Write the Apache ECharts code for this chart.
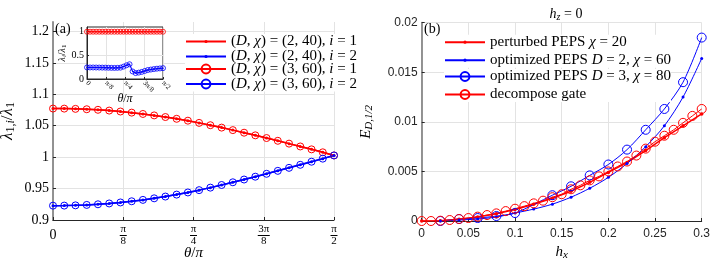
<!DOCTYPE html>
<html><head><meta charset="utf-8">
<script src="https://cdn.jsdelivr.net/npm/echarts@6/dist/echarts.min.js"></script>
<style>html,body{margin:0;padding:0;background:#fff}#c{width:711px;height:260px}</style>
</head><body><div id="c"></div>
<script>
// ---------- Panel (a) data ----------
const thetaOverPi = [0,0.02,0.04,0.06,0.08,0.1,0.12,0.14,0.16,0.18,0.2,0.22,0.24,0.26,0.28,0.3,0.32,0.34,0.36,0.38,0.4,0.42,0.44,0.46,0.48,0.5];
const ratioD2i1 = [1.0773,1.0772,1.0768,1.0762,1.0753,1.0741,1.0726,1.0708,1.0687,1.0664,1.0638,1.0610,1.0580,1.0545,1.0508,1.0470,1.0430,1.0389,1.0347,1.0304,1.0260,1.0215,1.0170,1.0124,1.0077,1.0027];
const ratioD2i2 = [0.9228,0.9229,0.9233,0.9240,0.9250,0.9263,0.9279,0.9298,0.9320,0.9345,0.9373,0.9404,0.9438,0.9475,0.9515,0.9557,0.9600,0.9644,0.9689,0.9735,0.9782,0.9830,0.9878,0.9927,0.9976,1.0027];
const ratioD3i1 = [1.0773,1.0772,1.0768,1.0762,1.0753,1.0741,1.0726,1.0708,1.0687,1.0664,1.0638,1.0610,1.0580,1.0545,1.0508,1.0470,1.0430,1.0389,1.0347,1.0304,1.0260,1.0215,1.0170,1.0124,1.0077,1.0027];
const ratioD3i2 = [0.9228,0.9229,0.9233,0.9240,0.9250,0.9263,0.9279,0.9298,0.9320,0.9345,0.9373,0.9404,0.9438,0.9475,0.9515,0.9557,0.9600,0.9644,0.9689,0.9735,0.9782,0.9830,0.9878,0.9927,0.9976,1.0027];
// inset: lambda_i / lambda_1
const insetI1 = [1,1,1,1,1,1,1,1,1,1,1,1,1,1,1,1,1,1,1,1,1,1,1,1,1,1];
const insetI2 = [0.245,0.244,0.244,0.243,0.242,0.241,0.240,0.238,0.236,0.235,0.236,0.240,0.262,0.290,0.312,0.160,0.125,0.135,0.150,0.170,0.190,0.200,0.210,0.218,0.224,0.230];
const thetaTicks = {0:'0', 0.125:'π/8', 0.25:'π/4', 0.375:'3π/8', 0.5:'π/2'};

// ---------- Panel (b) data ----------
const hxFine = [0,0.01,0.02,0.03,0.04,0.05,0.06,0.07,0.08,0.09,0.1,0.11,0.12,0.13,0.14,0.15,0.16,0.17,0.18,0.19,0.2,0.21,0.22,0.23,0.24,0.25,0.26,0.27,0.28,0.29,0.3];
const decomposeGate = [0,0,0.00003,0.0001,0.0002,0.0003,0.00044,0.0006,0.00077,0.001,0.00124,0.0015,0.00178,0.00205,0.0024,0.0027,0.0032,0.0036,0.0041,0.0045,0.0050,0.0055,0.0060,0.0066,0.0073,0.0080,0.0086,0.0092,0.0099,0.0106,0.0113];
const hxEven = [0,0.02,0.04,0.06,0.08,0.1,0.12,0.14,0.16,0.18,0.2,0.22,0.24,0.26,0.28,0.3];
const perturbedChi20 = [0,0.00002,0.00017,0.0004,0.00072,0.00116,0.00168,0.0023,0.0030,0.0039,0.0049,0.0059,0.0071,0.0084,0.0096,0.0108];
const hxD2 = [0.02,0.04,0.06,0.08,0.1,0.12,0.14,0.16,0.18,0.2,0.22,0.24,0.26,0.28,0.3];
const optD2chi60 = [0.0000,0.0001,0.0002,0.0004,0.0008,0.0012,0.0017,0.0024,0.0033,0.0044,0.0058,0.0075,0.0096,0.0125,0.0164];
const hxD3 = [0.02,0.04,0.06,0.08,0.1,0.14,0.16,0.18,0.2,0.22,0.24,0.26,0.28,0.3];
const optD3chi80 = [0.0000,0.0002,0.0003,0.0005,0.0008,0.0026,0.0035,0.0046,0.0057,0.0072,0.0092,0.0113,0.0140,0.0185];

const zip = (xs, ys) => xs.map((x, i) => [x, ys[i]]);
const RED = '#ff0000', BLUE = '#0000ff';
const SERIF = 'Liberation Serif';
const SANS = 'Liberation Sans';
const GRID = '#e3e3e3';
const AX = '#262626';

const fracRich = {
  n: {fontFamily: SERIF, fontSize: 11, lineHeight: 9, color: '#000'},
  bar: {width: 7, height: 1, lineHeight: 3, backgroundColor: '#000'},
  bar2: {width: 12, height: 1, lineHeight: 3, backgroundColor: '#000'},
  z: {fontFamily: SERIF, fontSize: 14, lineHeight: 21, color: '#000'}
};
function fracLabel(v) {
  const k = Math.round(v * 1000) / 1000;
  if (k === 0) return '{z|0}';
  if (k === 0.125) return '{n|π}\n{bar| }\n{n|8}';
  if (k === 0.25) return '{n|π}\n{bar| }\n{n|4}';
  if (k === 0.375) return '{n|3π}\n{bar2| }\n{n|8}';
  if (k === 0.5) return '{n|π}\n{bar| }\n{n|2}';
  return '';
}

const legendNames = {
  a1: '({i|D}, {i|χ}) = (2, 40), {i|i} = 1',
  a2: '({i|D}, {i|χ}) = (2, 40), {i|i} = 2',
  a3: '({i|D}, {i|χ}) = (3, 60), {i|i} = 1',
  a4: '({i|D}, {i|χ}) = (3, 60), {i|i} = 2',
  b1: 'perturbed PEPS {i|χ} = 20',
  b2: 'optimized PEPS {i|D} = 2, {i|χ} = 60',
  b3: 'optimized PEPS {i|D} = 3, {i|χ} = 80',
  b4: 'decompose gate'
};
const legText = {
  fontFamily: SERIF, fontSize: 15, color: '#000', lineHeight: 14,
  rich: {i: {fontFamily: SERIF, fontSize: 15, fontStyle: 'italic', lineHeight: 14}}
};
function mkLegend(data, left, top, h, gap) {
  return {
    data: data, left: left, top: top, orient: 'vertical',
    itemWidth: 40, itemHeight: h, itemGap: gap, padding: 0,
    backgroundColor: '#fff', selectedMode: false,
    formatter: n => legendNames[n], textStyle: legText
  };
}

const subRich = (fs) => ({
  m: {fontFamily: SERIF, fontSize: fs, fontStyle: 'italic', fontWeight: 'normal', lineHeight: fs + 2, color: '#000'},
  r: {fontFamily: SERIF, fontSize: fs, fontWeight: 'normal', lineHeight: fs + 2, color: '#000'},
  s: {fontFamily: SERIF, fontSize: Math.round(fs * 0.7), fontStyle: 'italic', fontWeight: 'normal', lineHeight: Math.round(fs * 0.6), verticalAlign: 'bottom', color: '#000'},
  su: {fontFamily: SERIF, fontSize: Math.round(fs * 0.7), fontWeight: 'normal', lineHeight: Math.round(fs * 0.6), verticalAlign: 'bottom', color: '#000'}
});

const splitMain = {show: true, lineStyle: {color: GRID, width: 1}};

const option = {
  backgroundColor: '#fff',
  animation: false,
  title: {
    text: '{m|h}{s|z}{r| = 0}', left: 561, top: 1, textAlign: 'center',
    textStyle: {fontWeight: 'normal', rich: subRich(14)}
  },
  grid: [
    {left: 53, top: 22, width: 281, height: 198, outerBoundsMode: 'none', containLabel: false},
    {left: 87, top: 27, width: 76, height: 52, show: true, backgroundColor: '#fff', borderColor: AX, borderWidth: 1, z: 5, outerBoundsMode: 'none', containLabel: false},
    {left: 421.7, top: 22.7, width: 280, height: 198.3, outerBoundsMode: 'none', containLabel: false}
  ],
  xAxis: [
    {
      gridIndex: 0, type: 'value', min: 0, max: 0.5, interval: 0.125,
      name: '{m|θ}{r|/}{m|π}', nameLocation: 'middle', nameGap: 25, nameMoveOverlap: false,
      nameTextStyle: {rich: subRich(15)},
      axisLine: {show: true, onZero: false, lineStyle: {color: AX, width: 1}},
      axisTick: {show: true, inside: true, length: 3, lineStyle: {color: AX}},
      axisLabel: {margin: 5, formatter: fracLabel, rich: fracRich, color: '#000'},
      splitLine: splitMain
    },
    {
      gridIndex: 1, type: 'value', min: 0, max: 0.5, interval: 0.125, z: 6,
      name: '{m|θ}{r|/}{m|π}', nameLocation: 'middle', nameGap: 13, nameMoveOverlap: false,
      nameTextStyle: {rich: subRich(12)},
      axisLine: {show: true, onZero: false, lineStyle: {color: AX, width: 1}},
      axisTick: {show: true, inside: true, length: 2, lineStyle: {color: AX}},
      axisLabel: {margin: 3, rotate: -45, fontFamily: SERIF, fontSize: 7, color: '#000', formatter: v => thetaTicks[Math.round(v * 1000) / 1000] || ''},
      splitLine: splitMain
    },
    {
      gridIndex: 2, type: 'value', min: 0, max: 0.3, interval: 0.05,
      name: '{m|h}{s|x}', nameLocation: 'middle', nameGap: 23, nameMoveOverlap: false,
      nameTextStyle: {rich: subRich(15)},
      axisLine: {show: true, onZero: false, lineStyle: {color: AX, width: 1}},
      axisTick: {show: true, inside: true, length: 3, lineStyle: {color: AX}},
      axisLabel: {margin: 7, fontFamily: SANS, fontSize: 12, color: '#262626'},
      splitLine: splitMain
    }
  ],
  yAxis: [
    {
      gridIndex: 0, type: 'value', min: 0.9, max: 1.215, interval: 0.05,
      name: '{m|λ}{su|1,}{s|i}{r|/}{m|λ}{su|1}', nameLocation: 'middle', nameGap: 36, nameMoveOverlap: false,
      nameTextStyle: {rich: subRich(17)},
      axisLine: {show: true, onZero: false, lineStyle: {color: '#888', width: 1.8}},
      axisTick: {show: true, inside: true, length: 3, lineStyle: {color: AX}},
      axisLabel: {margin: 4, fontFamily: SERIF, fontSize: 14, color: '#000', showMaxLabel: false},
      splitLine: {show: true, lineStyle: {color: [GRID, GRID, GRID, GRID, GRID, GRID, GRID, 'rgba(0,0,0,0)'], width: 1}}
    },
    {
      gridIndex: 1, type: 'value', min: 0, max: 1.1, interval: 0.5, z: 6,
      name: '{m|λ}{s|i}{r|/}{m|λ}{su|1}', nameLocation: 'middle', nameGap: 19, nameMoveOverlap: false,
      nameTextStyle: {rich: subRich(10)},
      axisLine: {show: true, onZero: false, lineStyle: {color: AX, width: 1}},
      axisTick: {show: true, inside: true, length: 2, lineStyle: {color: AX}},
      axisLabel: {margin: 3, fontFamily: SERIF, fontSize: 10, color: '#000', showMaxLabel: false},
      splitLine: {show: true, lineStyle: {color: [GRID, GRID, GRID, 'rgba(0,0,0,0)'], width: 1}}
    },
    {
      gridIndex: 2, type: 'value', min: 0, max: 0.02, interval: 0.005,
      name: '{m|E}{s|D,1/2}', nameLocation: 'middle', nameGap: 47, nameMoveOverlap: false,
      nameTextStyle: {rich: subRich(15)},
      axisLine: {show: true, onZero: false, lineStyle: {color: '#888', width: 1.8}},
      axisTick: {show: true, inside: true, length: 3, lineStyle: {color: AX}},
      axisLabel: {margin: 4, fontFamily: SANS, fontSize: 12, color: '#262626'},
      splitLine: splitMain
    }
  ],
  legend: [
    mkLegend(['a1', 'a2'], 185, 34, 4, 0),
    mkLegend(['a3', 'a4'], 185, 61.5, 11, 0),
    mkLegend(['b1', 'b2'], 444, 34.7, 4, 3),
    mkLegend(['b3', 'b4'], 444, 69, 11, 3)
  ],
  graphic: [
    {type: 'text', left: 55, top: 22, z: 10, style: {text: '(a)', font: '14px "Liberation Serif"', fill: '#000'}},
    {type: 'text', left: 424, top: 22, z: 10, style: {text: '(b)', font: '14px "Liberation Serif"', fill: '#000'}}
  ],
  series: [
    // panel (a) main
    {name: 'a1', type: 'line', xAxisIndex: 0, yAxisIndex: 0, data: zip(thetaOverPi, ratioD2i1),
      symbol: 'circle', symbolSize: 3, itemStyle: {color: RED}, lineStyle: {color: RED, width: 1.5}},
    {name: 'a2', type: 'line', xAxisIndex: 0, yAxisIndex: 0, data: zip(thetaOverPi, ratioD2i2),
      symbol: 'circle', symbolSize: 3, itemStyle: {color: BLUE}, lineStyle: {color: BLUE, width: 1.5}},
    {name: 'a3', type: 'line', xAxisIndex: 0, yAxisIndex: 0, data: zip(thetaOverPi, ratioD3i1),
      symbol: 'circle', symbolSize: 7, itemStyle: {color: 'rgba(0,0,0,0)', borderColor: RED, borderWidth: 1}, lineStyle: {color: RED, width: 1.5}},
    {name: 'a4', type: 'line', xAxisIndex: 0, yAxisIndex: 0, data: zip(thetaOverPi, ratioD3i2),
      symbol: 'circle', symbolSize: 7, itemStyle: {color: 'rgba(0,0,0,0)', borderColor: BLUE, borderWidth: 1}, lineStyle: {color: BLUE, width: 1.5}},
    // inset
    {name: 'in1', type: 'line', xAxisIndex: 1, yAxisIndex: 1, z: 7, data: zip(thetaOverPi, insetI1),
      symbol: 'circle', symbolSize: 5, itemStyle: {color: 'rgba(0,0,0,0)', borderColor: RED, borderWidth: 0.8}, lineStyle: {color: RED, width: 0.8}},
    {name: 'in1d', type: 'line', xAxisIndex: 1, yAxisIndex: 1, z: 7, data: zip(thetaOverPi, insetI1),
      symbol: 'circle', symbolSize: 1.5, itemStyle: {color: RED}, lineStyle: {color: RED, width: 0.8}},
    {name: 'in2', type: 'line', xAxisIndex: 1, yAxisIndex: 1, z: 7, data: zip(thetaOverPi, insetI2),
      symbol: 'circle', symbolSize: 5, itemStyle: {color: 'rgba(0,0,0,0)', borderColor: BLUE, borderWidth: 0.8}, lineStyle: {color: BLUE, width: 0.8}},
    {name: 'in2d', type: 'line', xAxisIndex: 1, yAxisIndex: 1, z: 7, data: zip(thetaOverPi, insetI2),
      symbol: 'circle', symbolSize: 1.5, itemStyle: {color: BLUE}, lineStyle: {color: BLUE, width: 0.8}},
    // panel (b)
    {name: 'b1', type: 'line', xAxisIndex: 2, yAxisIndex: 2, data: zip(hxEven, perturbedChi20),
      symbol: 'circle', symbolSize: 3.5, itemStyle: {color: RED}, lineStyle: {color: RED, width: 1.5}},
    {name: 'b2', type: 'line', xAxisIndex: 2, yAxisIndex: 2, data: zip(hxD2, optD2chi60), smooth: 0.3,
      symbol: 'circle', symbolSize: 3, itemStyle: {color: BLUE}, lineStyle: {color: BLUE, width: 1}},
    {name: 'b3', type: 'line', xAxisIndex: 2, yAxisIndex: 2, data: zip(hxD3, optD3chi80), smooth: 0.3,
      symbol: 'circle', symbolSize: 9, itemStyle: {color: 'rgba(0,0,0,0)', borderColor: BLUE, borderWidth: 1}, lineStyle: {color: BLUE, width: 1}},
    {name: 'b4', type: 'line', xAxisIndex: 2, yAxisIndex: 2, data: zip(hxFine, decomposeGate),
      symbol: 'circle', symbolSize: 9, itemStyle: {color: 'rgba(0,0,0,0)', borderColor: RED, borderWidth: 1}, lineStyle: {color: RED, width: 1}}
  ]
};
const chart = echarts.init(document.getElementById('c'), null, {renderer: 'canvas'});
chart.setOption(option);
</script>
</body></html>
